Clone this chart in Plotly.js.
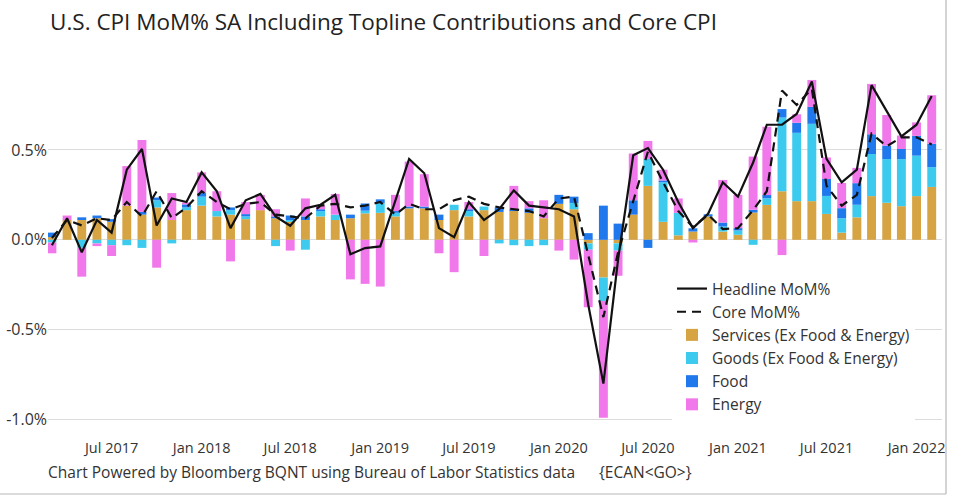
<!DOCTYPE html>
<html>
<head>
<meta charset="utf-8">
<script src="https://cdn.plot.ly/plotly-3.0.1.min.js"></script>
<style>
  html, body { margin: 0; padding: 0; background: #fff; }
  #chart { width: 970px; height: 497px; }
</style>
</head>
<body>
<div id="chart"></div>
<script>
const months = [
  '2017-03-01','2017-04-01','2017-05-01','2017-06-01','2017-07-01','2017-08-01','2017-09-01','2017-10-01','2017-11-01','2017-12-01',
  '2018-01-01','2018-02-01','2018-03-01','2018-04-01','2018-05-01','2018-06-01','2018-07-01','2018-08-01','2018-09-01','2018-10-01','2018-11-01','2018-12-01',
  '2019-01-01','2019-02-01','2019-03-01','2019-04-01','2019-05-01','2019-06-01','2019-07-01','2019-08-01','2019-09-01','2019-10-01','2019-11-01','2019-12-01',
  '2020-01-01','2020-02-01','2020-03-01','2020-04-01','2020-05-01','2020-06-01','2020-07-01','2020-08-01','2020-09-01','2020-10-01','2020-11-01','2020-12-01',
  '2021-01-01','2021-02-01','2021-03-01','2021-04-01','2021-05-01','2021-06-01','2021-07-01','2021-08-01','2021-09-01','2021-10-01','2021-11-01','2021-12-01',
  '2022-01-01','2022-02-01'
];

// Contributions to headline CPI MoM% (percentage points)
const services = [
  0.015,0.11,0.11,0.12,0.10,0.19,0.14,0.18,0.11,0.165,
  0.19,0.13,0.14,0.115,0.165,0.12,0.10,0.11,0.13,0.11,0.12,0.147,
  0.15,0.13,0.175,0.175,0.11,0.165,0.13,0.165,0.155,0.16,0.15,0.12,
  0.20,0.17,-0.02,-0.21,-0.02,0.14,0.30,0.10,0.025,0.046,0.13,0.046,
  0.028,0.152,0.194,0.27,0.215,0.215,0.144,0.04,0.125,0.243,0.206,0.187,
  0.243,0.294
];
const goods = [
  -0.015,0.0,-0.045,-0.02,-0.03,-0.03,-0.045,0.04,-0.02,0.015,
  0.05,0.03,0.025,0.015,0.0,-0.035,0.01,-0.055,0.03,0.03,0.0,0.015,
  0.055,0.02,0.0,0.0,0.0,0.03,0.03,0.02,-0.02,-0.03,-0.035,-0.03,
  0.0,0.035,-0.035,-0.13,-0.04,0.0,0.15,0.22,0.125,0.0,0.0,0.028,
  0.024,-0.028,0.037,0.41,0.38,0.43,0.10,0.08,0.07,0.234,0.243,0.262,
  0.225,0.11
];
const food = [
  0.025,0.0,0.015,0.015,0.015,0.0,0.015,0.015,0.0,0.017,
  0.02,0.0,0.015,0.013,0.0,0.01,0.025,0.02,0.01,0.0,0.02,0.04,
  0.02,0.01,0.01,0.01,0.03,0.0,0.01,0.0,0.025,0.01,0.025,0.0,
  0.05,0.035,0.037,0.19,0.09,0.08,-0.045,0.01,0.0,0.018,0.012,0.022,
  0.013,0.015,0.018,0.047,0.056,0.094,0.094,0.056,0.12,0.11,0.075,0.056,
  0.11,0.13
];
const energy = [
  -0.06,0.025,-0.16,-0.015,-0.06,0.22,0.40,-0.155,0.15,0.01,
  0.115,0.11,-0.12,0.067,0.085,0.04,-0.06,0.10,0.02,0.115,-0.22,-0.245,
  -0.26,0.09,0.25,0.18,-0.075,-0.18,0.04,-0.09,0.0,0.13,0.04,0.10,
  -0.06,-0.11,-0.32,-0.65,-0.14,0.26,0.10,0.06,0.08,-0.015,0.0,0.237,
  0.185,0.296,0.38,-0.085,0.047,0.15,0.12,0.14,0.085,0.28,0.17,0.075,
  0.075,0.27
];
const headline = [
  -0.03,0.12,-0.07,0.11,0.04,0.39,0.505,0.08,0.23,0.21,
  0.375,0.27,0.065,0.22,0.255,0.13,0.078,0.175,0.195,0.25,-0.08,-0.046,
  -0.037,0.22,0.45,0.37,0.065,0.015,0.21,0.11,0.17,0.275,0.19,0.18,
  0.17,0.13,-0.36,-0.80,-0.11,0.47,0.51,0.39,0.21,0.065,0.145,0.32,
  0.24,0.43,0.64,0.64,0.70,0.88,0.45,0.32,0.39,0.86,0.715,0.575,
  0.64,0.80
];
const core = [
  0.01,0.11,0.08,0.12,0.11,0.21,0.13,0.27,0.12,0.18,
  0.27,0.21,0.17,0.20,0.21,0.14,0.13,0.12,0.19,0.20,0.18,0.19,
  0.21,0.14,0.20,0.17,0.17,0.22,0.24,0.20,0.18,0.17,0.16,0.13,
  0.23,0.24,-0.08,-0.43,-0.07,0.21,0.49,0.32,0.16,0.07,0.14,0.06,
  0.065,0.165,0.27,0.83,0.75,0.84,0.30,0.19,0.25,0.59,0.52,0.57,
  0.57,0.53
];

const seriesNames = ['Headline MoM%','Core MoM%','Services (Ex Food & Energy)','Goods (Ex Food & Energy)','Food','Energy'];
const yTickVals = [-1.0,-0.5,0.0,0.5];
const yTickText = ['-1.0%','-0.5%','0.0%','0.5%'];
const titleText = 'U.S. CPI MoM% SA Including Topline Contributions and Core CPI';
const footText = 'Chart Powered by Bloomberg BQNT using Bureau of Labor Statistics data';
const footCode = '{ECAN&lt;GO&gt;}';

const FONT = 'Open Sans, Noto Sans, sans-serif';

// plot area in pixels: left 48, right 942, top 60, bottom 434
const PL = 48, PR = 942, PT = 60, PB = 434;
const px = v => (v - PL) / (PR - PL);
const py = v => (PB - v) / (PB - PT);

const traces = [
  {type:'scatter', mode:'lines', x:months, y:headline, name:seriesNames[0], legendgroup:'g1',
   line:{color:'#111111', width:2.2}},
  {type:'scatter', mode:'lines', x:months, y:core, name:seriesNames[1], legendgroup:'g2',
   line:{color:'#111111', width:2.2, dash:'9px,6px'}},
  {type:'bar', x:months, y:services, name:seriesNames[2], legendgroup:'g3', marker:{color:'#D6A443'}},
  {type:'bar', x:months, y:goods, name:seriesNames[3], legendgroup:'g4', marker:{color:'#3CCBEF'}},
  {type:'bar', x:months, y:food, name:seriesNames[4], legendgroup:'g5', marker:{color:'#1F78EC'}},
  {type:'bar', x:months, y:energy, name:seriesNames[5], legendgroup:'g6', marker:{color:'#F078EA'}}
];

const layout = {
  width:970, height:497,
  margin:{l:PL, r:970-PR, t:PT, b:497-PB},
  paper_bgcolor:'#ffffff', plot_bgcolor:'#ffffff',
  font:{family:FONT, size:15, color:'#333333'},
  barmode:'relative', bargap:0.35,
  title:{text:titleText, x:50/970, xref:'container', xanchor:'left',
         y:1-22/497, yref:'container', yanchor:'middle',
         font:{family:FONT, size:22.5, color:'#222222'}},
  xaxis:{type:'date', range:['2017-02-21','2022-02-22'], tickformat:'%b %Y', dtick:'M6', tick0:'2017-01-01',
         showgrid:false, zeroline:false, showline:false, ticks:'', ticklabelstandoff:3,
         ticklabeloverflow:'allow', tickfont:{size:14.5, color:'#333'}},
  yaxis:{range:[-1.08,1.0], tickvals:yTickVals, ticktext:yTickText, gridcolor:'#dcdcdc', gridwidth:1,
         zeroline:false, showline:false, ticks:'', tickfont:{size:16, color:'#333'}},
  legend:{x:px(672), y:py(272), xanchor:'left', yanchor:'top', bgcolor:'#ffffff',
          font:{size:15.5, color:'#333'}, tracegroupgap:0, traceorder:'grouped'},
  annotations:[
    {text:footText, xref:'paper', yref:'paper', x:px(46), y:py(472), xanchor:'left', yanchor:'middle',
     showarrow:false, font:{size:15.5, color:'#333'}},
    {text:footCode, xref:'paper', yref:'paper', x:px(597), y:py(472), xanchor:'left', yanchor:'middle',
     showarrow:false, font:{size:15.5, color:'#333'}}
  ],
  shapes:[
    {type:'line', xref:'paper', yref:'paper', x0:px(946), x1:px(946), y0:py(0), y1:py(494),
     line:{color:'#b8b8b8', width:1.2}},
    {type:'line', xref:'paper', yref:'paper', x0:px(0), x1:px(946), y0:py(494), y1:py(494),
     line:{color:'#b8b8b8', width:1.2}}
  ]
};

Plotly.newPlot('chart', traces, layout, {displayModeBar:false, staticPlot:true});
</script>
</body>
</html>
